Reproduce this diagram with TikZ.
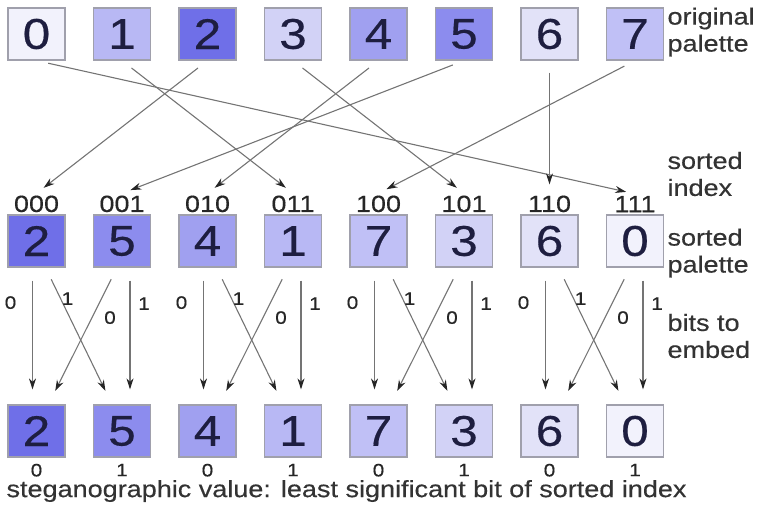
\documentclass[tikz,border=0pt]{standalone}
\usepackage{fontspec}
\setmainfont{Liberation Sans}[FakeStretch=1.15, FakeBold=0.4]
\usetikzlibrary{positioning, arrows.meta, calc}

\definecolor{c0}{HTML}{F2F2FC}
\definecolor{c1}{HTML}{B8B8F4}
\definecolor{c2}{HTML}{6F6FE8}
\definecolor{c3}{HTML}{D2D2F6}
\definecolor{c4}{HTML}{A0A0F0}
\definecolor{c5}{HTML}{8C8CEE}
\definecolor{c6}{HTML}{E2E2F8}
\definecolor{c7}{HTML}{C0C0F6}
\definecolor{edgegray}{HTML}{A0A0AC}
\definecolor{ink}{HTML}{1E1E40}
\definecolor{wiregray}{HTML}{747474}

\begin{document}
\begin{tikzpicture}[
    x = 1pt, y = -1pt, % one unit per pixel, y going down
    > = {Stealth[length=11pt, width=7pt, color=black!85]},
    node distance = 27.3pt,
    box/.style={draw=edgegray, line width=1.2pt, minimum width=57pt, minimum height=52pt,
                inner sep=0pt, text=ink, font=\fontsize{43}{43}\selectfont},
    idx/.style={text=black!85, inner sep=2pt, font=\fontsize{23.5}{23.5}\selectfont},
    bit/.style={text=black!85, inner sep=0pt, font=\fontsize{18}{18}\selectfont},
    side/.style={anchor=west, align=left, text=black!80, font=\fontsize{23.5}{27}\selectfont},
    sortarrow/.style={draw=wiregray, line width=1.1pt, ->, shorten <=12pt, shorten >=9pt},
    bitarrow/.style={draw=wiregray, line width=1.1pt, ->, shorten <=13pt, shorten >=15pt}
]
\useasboundingbox (0,0) rectangle (760,512);

% --- ORIGINAL PALETTE ---
\node[box, fill=c0] (o0) at (36.5,34) {0};
\node[box, fill=c1, right=of o0] (o1) {1};
\node[box, fill=c2, right=of o1] (o2) {2};
\node[box, fill=c3, right=of o2] (o3) {3};
\node[box, fill=c4, right=of o3] (o4) {4};
\node[box, fill=c5, right=of o4] (o5) {5};
\node[box, fill=c6, right=of o5] (o6) {6};
\node[box, fill=c7, right=of o6] (o7) {7};
\node[side] (lorig) at (664,32) {original\\palette};

% --- SORTED PALETTE with its index ---
\node[box, fill=c2] (s0) at (36.5,241) {2};
\node[box, fill=c5, right=of s0] (s1) {5};
\node[box, fill=c4, right=of s1] (s2) {4};
\node[box, fill=c1, right=of s2] (s3) {1};
\node[box, fill=c7, right=of s3] (s4) {7};
\node[box, fill=c3, right=of s4] (s5) {3};
\node[box, fill=c6, right=of s5] (s6) {6};
\node[box, fill=c0, right=of s6] (s7) {0};

\node[idx, above=0pt of s0] (i0) {000};
\node[idx, above=0pt of s1] (i1) {001};
\node[idx, above=0pt of s2] (i2) {010};
\node[idx, above=0pt of s3] (i3) {011};
\node[idx, above=0pt of s4] (i4) {100};
\node[idx, above=0pt of s5] (i5) {101};
\node[idx, above=0pt of s6] (i6) {110};
\node[idx, above=0pt of s7] (i7) {111};
\node[side] (lindex) at (664,174) {sorted\\index};
\node[side] (lsorted) at (664,253) {sorted\\palette};

% Draw the sorting arrows
\draw[sortarrow] (o0.south) -- (i7.north);
\draw[sortarrow] (o1.south) -- (i3.north);
\draw[sortarrow] (o2.south) -- (i0.north);
\draw[sortarrow] (o3.south) -- (i5.north);
\draw[sortarrow] (o4.south) -- (i2.north);
\draw[sortarrow] (o5.south) -- (i1.north);
\draw[sortarrow] (o6.south) -- (i6.north);
\draw[sortarrow] (o7.south) -- (i4.north);

% --- EMBEDDED PALETTE ---
\node[box, fill=c2] (e0) at (36.5,431) {2};
\node[box, fill=c5, right=of e0] (e1) {5};
\node[box, fill=c4, right=of e1] (e2) {4};
\node[box, fill=c1, right=of e2] (e3) {1};
\node[box, fill=c7, right=of e3] (e4) {7};
\node[box, fill=c3, right=of e4] (e5) {3};
\node[box, fill=c6, right=of e5] (e6) {6};
\node[box, fill=c0, right=of e6] (e7) {0};

\node[bit, below=6pt of e0] (v0) {0};
\node[bit, below=6pt of e1] (v1) {1};
\node[bit, below=6pt of e2] (v2) {0};
\node[bit, below=6pt of e3] (v3) {1};
\node[bit, below=6pt of e4] (v4) {0};
\node[bit, below=6pt of e5] (v5) {1};
\node[bit, below=6pt of e6] (v6) {0};
\node[bit, below=6pt of e7] (v7) {1};
\node[side, font=\fontsize{23.5}{25}\selectfont] (lsteg) at (3,491)
    {steganographic value: least significant bit of sorted index};
\node[side] (lbits) at (664,336) {bits to\\embed};

% Draw the bit arrows, pair by pair
\draw[bitarrow] ([xshift=-4pt]s0.south) -- ([xshift=-4pt]e0.north);
\draw[bitarrow] ([xshift=9pt]s0.south) -- ([xshift=-10pt]e1.north);
\draw[bitarrow] ([xshift=-5pt]s1.south) -- ([xshift=12pt]e0.north);
\draw[bitarrow] ([xshift=8pt]s1.south) -- ([xshift=8pt]e1.north);

\draw[bitarrow] ([xshift=-4pt]s2.south) -- ([xshift=-4pt]e2.north);
\draw[bitarrow] ([xshift=9pt]s2.south) -- ([xshift=-10pt]e3.north);
\draw[bitarrow] ([xshift=-5pt]s3.south) -- ([xshift=12pt]e2.north);
\draw[bitarrow] ([xshift=8pt]s3.south) -- ([xshift=8pt]e3.north);

\draw[bitarrow] ([xshift=-4pt]s4.south) -- ([xshift=-4pt]e4.north);
\draw[bitarrow] ([xshift=9pt]s4.south) -- ([xshift=-10pt]e5.north);
\draw[bitarrow] ([xshift=-5pt]s5.south) -- ([xshift=12pt]e4.north);
\draw[bitarrow] ([xshift=8pt]s5.south) -- ([xshift=8pt]e5.north);

\draw[bitarrow] ([xshift=-4pt]s6.south) -- ([xshift=-4pt]e6.north);
\draw[bitarrow] ([xshift=9pt]s6.south) -- ([xshift=-10pt]e7.north);
\draw[bitarrow] ([xshift=-5pt]s7.south) -- ([xshift=12pt]e6.north);
\draw[bitarrow] ([xshift=8pt]s7.south) -- ([xshift=8pt]e7.north);

% Bit labels on the arrows
\node[bit] (b00) at ($(s0.south)+(-26,35)$) {0};
\node[bit] (b01) at ($(s0.south)+(31,31)$) {1};
\node[bit] (b10) at ($(s1.south)+(-12,50)$) {0};
\node[bit] (b11) at ($(s1.south)+(22,36)$) {1};
\node[bit] (b20) at ($(s2.south)+(-26,35)$) {0};
\node[bit] (b21) at ($(s2.south)+(31,31)$) {1};
\node[bit] (b30) at ($(s3.south)+(-12,50)$) {0};
\node[bit] (b31) at ($(s3.south)+(22,36)$) {1};
\node[bit] (b40) at ($(s4.south)+(-26,35)$) {0};
\node[bit] (b41) at ($(s4.south)+(31,31)$) {1};
\node[bit] (b50) at ($(s5.south)+(-12,50)$) {0};
\node[bit] (b51) at ($(s5.south)+(22,36)$) {1};
\node[bit] (b60) at ($(s6.south)+(-26,35)$) {0};
\node[bit] (b61) at ($(s6.south)+(31,31)$) {1};
\node[bit] (b70) at ($(s7.south)+(-12,50)$) {0};
\node[bit] (b71) at ($(s7.south)+(22,36)$) {1};

\end{tikzpicture}
\end{document}
